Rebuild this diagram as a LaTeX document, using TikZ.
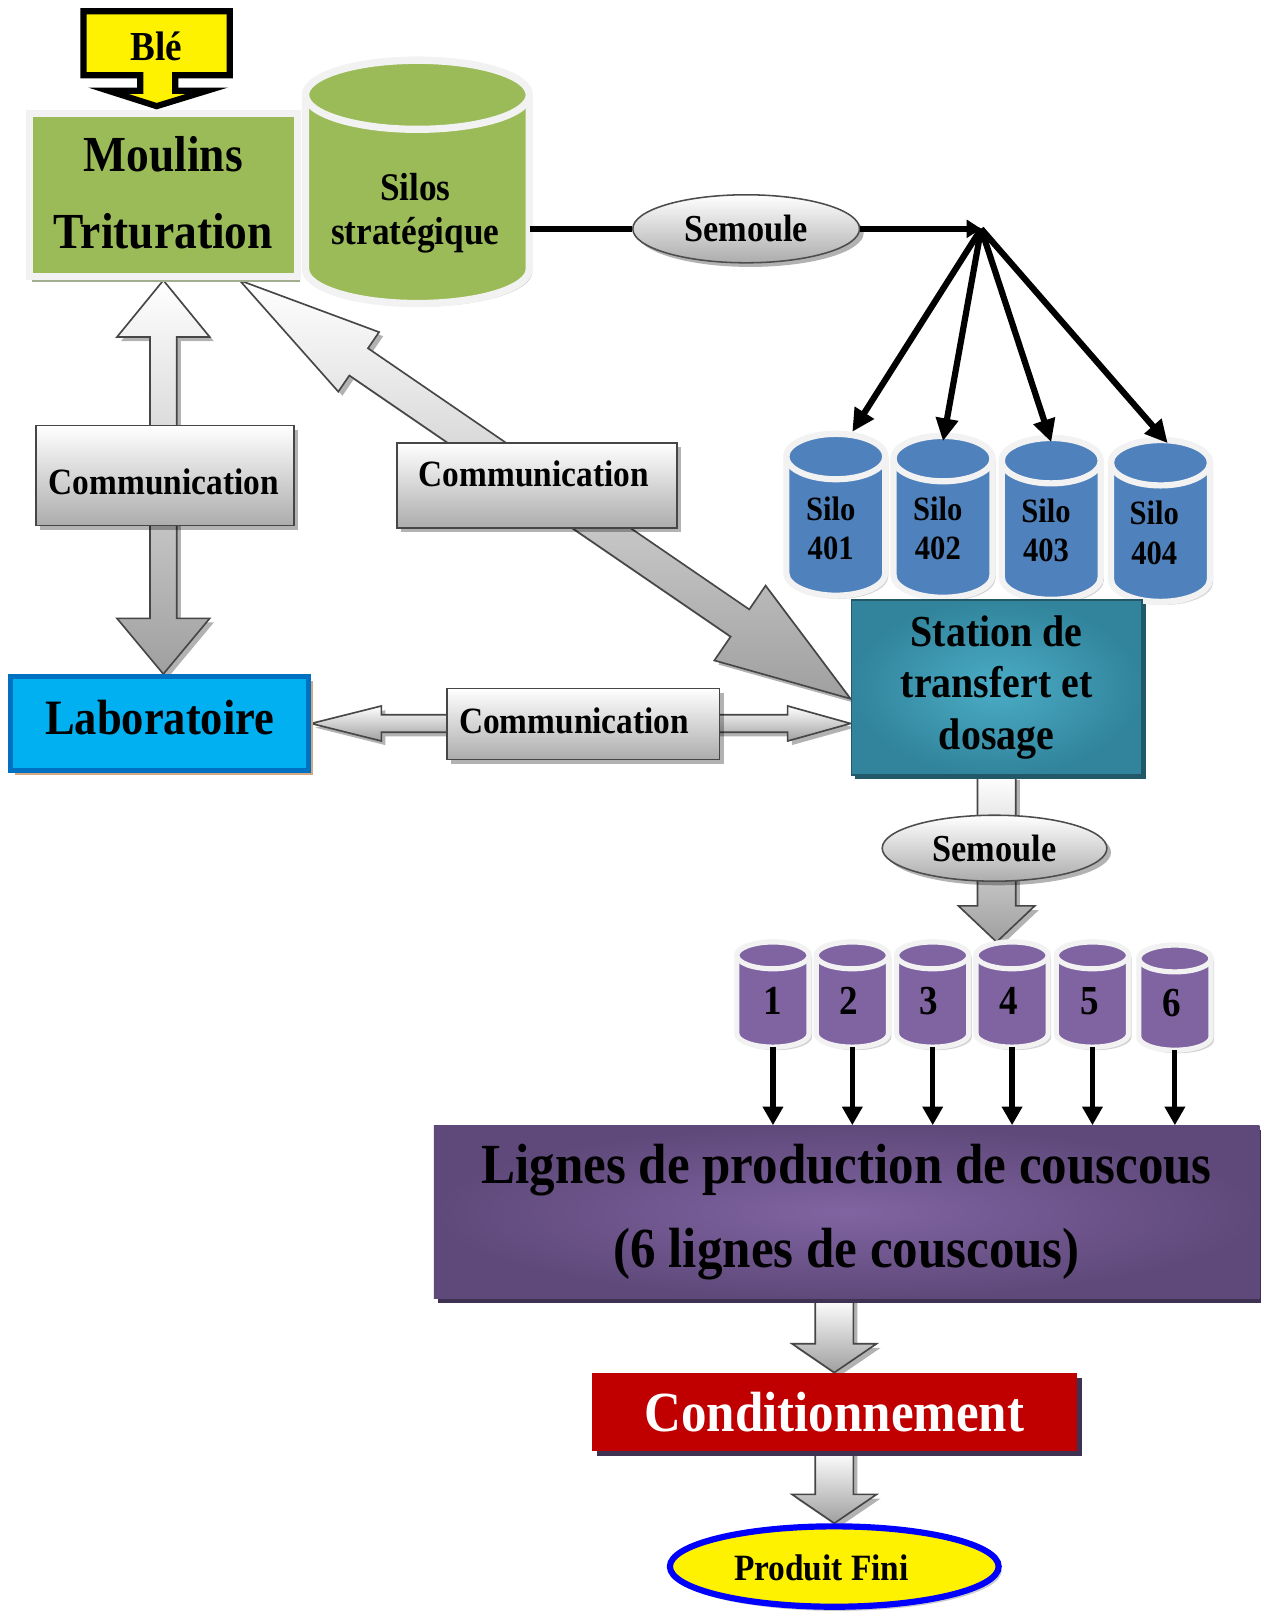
\documentclass[tikz,border=0pt]{standalone}
\usepackage{fontspec}
\setmainfont[FakeStretch=0.9]{Liberation Serif}
\usetikzlibrary{shapes.geometric,shadows,calc,arrows.meta}
\definecolor{ogreen}{HTML}{9BBB59}
\definecolor{lightb}{HTML}{F2F2F2}
\definecolor{greenshadow}{HTML}{A3AD8F}
\definecolor{oblue}{HTML}{4F81BD}
\definecolor{opurple}{HTML}{8064A2}
\definecolor{dpurple}{HTML}{5F497A}
\definecolor{shpurple}{HTML}{3F3151}
\definecolor{tealin}{HTML}{4BACC6}
\definecolor{tealout}{HTML}{31849B}
\definecolor{tealdark}{HTML}{215968}
\definecolor{ored}{HTML}{C00000}
\definecolor{labfill}{HTML}{00B0F0}
\definecolor{labline}{HTML}{0070C0}
\definecolor{labshadow}{HTML}{D3A883}
\definecolor{pblue}{HTML}{0000FF}
\newcommand\myfs[2]{\fontsize{#1}{#2}\selectfont\bfseries}
\pgfdeclarelayer{back}
\pgfsetlayers{back,main}

% double block arrow: [style]{from}{to}{half shaft}{half head at from}{head len at from}{half head at to}{head len at to}
\newcommand\dblarrow[8][]{%
 \path[#1] let \p1=(#2), \p2=(#3), \n1={veclen(\x2-\x1,\y2-\y1)}, \n2={(\x2-\x1)/\n1}, \n3={(\y2-\y1)/\n1} in
 (\p1)
 -- ({\x1+(#6)*\n2-(#5)*\n3},{\y1+(#6)*\n3+(#5)*\n2})
 -- ({\x1+(#6)*\n2-(#4)*\n3},{\y1+(#6)*\n3+(#4)*\n2})
 -- ({\x1+(\n1-#8)*\n2-(#4)*\n3},{\y1+(\n1-#8)*\n3+(#4)*\n2})
 -- ({\x1+(\n1-#8)*\n2-(#7)*\n3},{\y1+(\n1-#8)*\n3+(#7)*\n2})
 -- (\p2)
 -- ({\x1+(\n1-#8)*\n2+(#7)*\n3},{\y1+(\n1-#8)*\n3-(#7)*\n2})
 -- ({\x1+(\n1-#8)*\n2+(#4)*\n3},{\y1+(\n1-#8)*\n3-(#4)*\n2})
 -- ({\x1+(#6)*\n2+(#4)*\n3},{\y1+(#6)*\n3-(#4)*\n2})
 -- ({\x1+(#6)*\n2+(#5)*\n3},{\y1+(#6)*\n3-(#5)*\n2})
 -- cycle;}
% single block arrow: [style]{from}{to}{half shaft}{half head}{head len}
\newcommand\sglarrow[6][]{%
 \path[#1] let \p1=(#2), \p2=(#3), \n1={veclen(\x2-\x1,\y2-\y1)}, \n2={(\x2-\x1)/\n1}, \n3={(\y2-\y1)/\n1} in
 ({\x1-(#4)*\n3},{\y1+(#4)*\n2})
 -- ({\x1+(\n1-#6)*\n2-(#4)*\n3},{\y1+(\n1-#6)*\n3+(#4)*\n2})
 -- ({\x1+(\n1-#6)*\n2-(#5)*\n3},{\y1+(\n1-#6)*\n3+(#5)*\n2})
 -- (\p2)
 -- ({\x1+(\n1-#6)*\n2+(#5)*\n3},{\y1+(\n1-#6)*\n3-(#5)*\n2})
 -- ({\x1+(\n1-#6)*\n2+(#4)*\n3},{\y1+(\n1-#6)*\n3-(#4)*\n2})
 -- ({\x1+(#4)*\n3},{\y1-(#4)*\n2})
 -- cycle;}
% cylinder: {name}{cx}{ytop}{ybot}{rx}{ry}{fill}{line width}
\newcommand\cylshape[8]{%
 \path[draw=lightb, line width=#8pt, fill=#7, drop shadow={shadow xshift=3pt, shadow yshift=-3pt, opacity=0.35}]
   ({#2-#5},{-#3}) -- ({#2-#5},{-#4}) arc[start angle=180,end angle=360,x radius=#5pt,y radius=#6pt]
   -- ({#2+#5},{-#3}) arc[start angle=0,end angle=180,x radius=#5pt,y radius=#6pt] -- cycle;
 \draw[lightb, line width=#8pt, fill=#7] (#2,{-#3}) ellipse [x radius=#5pt, y radius=#6pt];
 \coordinate (#1top) at (#2,{-#3+#6});
 \coordinate (#1bot) at (#2,{-#4-#6});
}
\tikzset{
 gshadow/.style={drop shadow={shadow xshift=4pt, shadow yshift=-4pt, opacity=0.3, fill=black}},
 grayarrow/.style={draw=gray!55!black, line width=1.6pt, top color=white, bottom color=gray!75, gshadow},
 commbox/.style={rectangle, draw=gray!55!black, line width=1.6pt, top color=white, bottom color=gray!65, gshadow, inner sep=0pt},
 semoule/.style={ellipse, draw=gray!60!black, line width=1.5pt, top color=white, bottom color=gray!65, inner sep=0pt, gshadow},
 blackarrow/.style={line width=6pt, -{Triangle[length=22pt,width=21pt]}},
 smallarrow/.style={line width=5pt, -{Triangle[length=18pt,width=19pt]}},
}

\begin{document}
\begin{tikzpicture}[x=1pt,y=1pt]
\useasboundingbox (0,0) rectangle (1223,-1568);

% ---------- Moulins + silo strategique + Ble
\node[draw=lightb, line width=7pt, fill=ogreen, minimum width=260pt, minimum height=158pt, inner sep=0pt,
      drop shadow={shadow xshift=3pt, shadow yshift=-5pt, fill=greenshadow, opacity=1},
      align=center, text depth=5pt, font={\myfs{49}{75}}] (moul) at (158.5,-189.5) {Moulins\\Trituration};
\cylshape{gs}{405}{92}{261}{108.5}{33.5}{ogreen}{7}
\node[align=center, font={\myfs{38}{43}}] (gstxt) at (403,-207) {Silos\\stratégique};
\draw[line width=6pt, fill=yellow, line join=miter]
  (81,-11) -- (223,-11) -- (223,-73) -- (170,-73) -- (170,-88) -- (201,-88) -- (152,-103)
  -- (105,-88) -- (136,-88) -- (136,-73) -- (81,-73) -- cycle;
\node[font={\myfs{40}{40}}] (ble) at (152,-45) {Blé};

% ---------- Laboratoire
\node[draw=labline, line width=5pt, fill=labfill, minimum width=289pt, minimum height=91pt, inner sep=0pt,
      drop shadow={shadow xshift=4pt, shadow yshift=-4pt, fill=labshadow, opacity=1},
      text depth=11pt, font={\myfs{48}{50}}] (lab) at (155,-702) {Laboratoire};

% ---------- Semoule line to the silos
\node[semoule, minimum width=220pt, minimum height=66pt, font={\myfs{37}{37}}] (sem1) at (724,-222) {Semoule};
\coordinate (gsE) at (514,-222);
\coordinate (hub) at (952,-222);
\draw[line width=6pt] (gsE) -- (sem1.west);
\draw[line width=6pt, -{Triangle[length=14pt,width=17pt]}] (sem1.east) -- (hub);

% ---------- Blue silos
\cylshape{b1}{811}{443}{556}{48}{22}{oblue}{6}
\cylshape{b2}{915}{445}{558}{48}{22}{oblue}{6}
\cylshape{b3}{1020}{447}{560}{48}{22}{oblue}{6}
\cylshape{b4}{1126}{449}{562}{48}{22}{oblue}{6}
\node[align=center, font={\myfs{33}{38}}] (s401) at (806,-513) {Silo\\401};
\node[align=center, font={\myfs{33}{38}}] (s402) at (910,-513) {Silo\\402};
\node[align=center, font={\myfs{33}{38}}] (s403) at (1015,-515) {Silo\\403};
\node[align=center, font={\myfs{33}{38}}] (s404) at (1120,-517) {Silo\\404};
\draw[blackarrow] (hub) -- ([xshift=16pt,yshift=2pt]b1top);
\draw[blackarrow] (hub) -- ([yshift=-5pt]b2top);
\draw[blackarrow] (hub) -- ([yshift=-4pt]b3top);
\draw[blackarrow] (hub) -- ([xshift=7pt,yshift=-3pt]b4top);

% ---------- Station
\node[draw=tealdark, line width=1.5pt, inner color=tealin, outer color=tealout,
      minimum width=282pt, minimum height=170pt, inner sep=0pt,
      drop shadow={shadow xshift=4pt, shadow yshift=-4pt, fill=tealdark, opacity=1},
      align=center, font={\myfs{43}{50}}] (stat) at (967,-667) {Station de\\transfert et\\dosage};

% ---------- Semoule 2
\node[semoule, minimum width=218pt, minimum height=64pt, font={\myfs{37}{37}}] (sem2) at (965,-823) {Semoule};

% ---------- Purple silos
\cylshape{p1}{750}{927}{1003}{35}{13}{opurple}{5}
\cylshape{p2}{827}{927}{1003}{35}{13}{opurple}{5}
\cylshape{p3}{905}{927}{1003}{35}{13}{opurple}{5}
\cylshape{p4}{982}{927}{1003}{35}{13}{opurple}{5}
\cylshape{p5}{1060}{927}{1003}{35}{13}{opurple}{5}
\cylshape{p6}{1140}{930}{1006}{35}{13}{opurple}{5}
\node[font={\myfs{40}{40}}] (n1) at (750,-971) {1};
\node[font={\myfs{40}{40}}] (n2) at (824,-971) {2};
\node[font={\myfs{40}{40}}] (n3) at (901,-971) {3};
\node[font={\myfs{40}{40}}] (n4) at (979,-971) {4};
\node[font={\myfs{40}{40}}] (n5) at (1057,-971) {5};
\node[font={\myfs{40}{40}}] (n6) at (1137,-973) {6};

% ---------- Lignes
\node[inner color=opurple, outer color=dpurple, minimum width=801pt, minimum height=168pt, inner sep=0pt,
      drop shadow={shadow xshift=4pt, shadow yshift=-4pt, fill=shpurple, opacity=1},
      align=center, font={\myfs{55}{81}}] (lig) at (821.5,-1176) {Lignes de production de couscous\\(6 lignes de couscous)};
\foreach \i in {1,...,6} {\draw[smallarrow] (p\i bot) -- (p\i bot |- lig.north);}

% ---------- Conditionnement
\node[fill=ored, minimum width=471pt, minimum height=76pt, inner sep=0pt,
      drop shadow={shadow xshift=5pt, shadow yshift=-5pt, fill=shpurple, opacity=1},
      text=white, font={\myfs{55}{60}}] (cond) at (809.5,-1370) {Conditionnement};

% ---------- Produit fini
\node[ellipse, draw=pblue, line width=6pt, fill=yellow, minimum width=319pt, minimum height=78pt, inner sep=0pt,
      drop shadow={shadow xshift=3pt, shadow yshift=-4pt, opacity=0.4}] (prod) at (809.5,-1520) {};
\node[font={\myfs{36}{36}}] (prodt) at (797,-1521) {Produit Fini};

% ---------- Background block arrows and communication boxes
\begin{pgfonlayer}{back}
\fill[white] (0,0) rectangle (1223,-1568);
\dblarrow[grayarrow]{moul.south}{moul.south |- lab.north}{13}{45}{55}{45}{54}
\dblarrow[grayarrow]{[xshift=74pt]moul.south}{[yshift=-11pt]stat.west}{16}{35}{140}{44}{130}
\dblarrow[grayarrow]{lab.east}{lab.east -| stat.west}{8.5}{17}{68}{17}{61}
\sglarrow[grayarrow]{stat.south}{stat.south |- p4top}{18.5}{37}{35}
\sglarrow[grayarrow]{cond.north |- lig.south}{cond.north}{18.5}{41}{28}
\sglarrow[grayarrow]{cond.south}{prod.north}{18.5}{41}{28}
\node[commbox, minimum width=250pt, minimum height=97pt] (comm1) at (160,-461.5) {};
\node[font={\myfs{36}{36}}] (comm1t) at (159,-468) {Communication};
\node[commbox, minimum width=272pt, minimum height=82pt] (comm2) at (521,-471) {};
\node[font={\myfs{36}{36}}] (comm2t) at (518,-460) {Communication};
\node[commbox, minimum width=264pt, minimum height=69pt] (comm3) at (566,-702.5) {};
\node[font={\myfs{36}{36}}] (comm3t) at (557,-699) {Communication};
\end{pgfonlayer}
\end{tikzpicture}
\end{document}
